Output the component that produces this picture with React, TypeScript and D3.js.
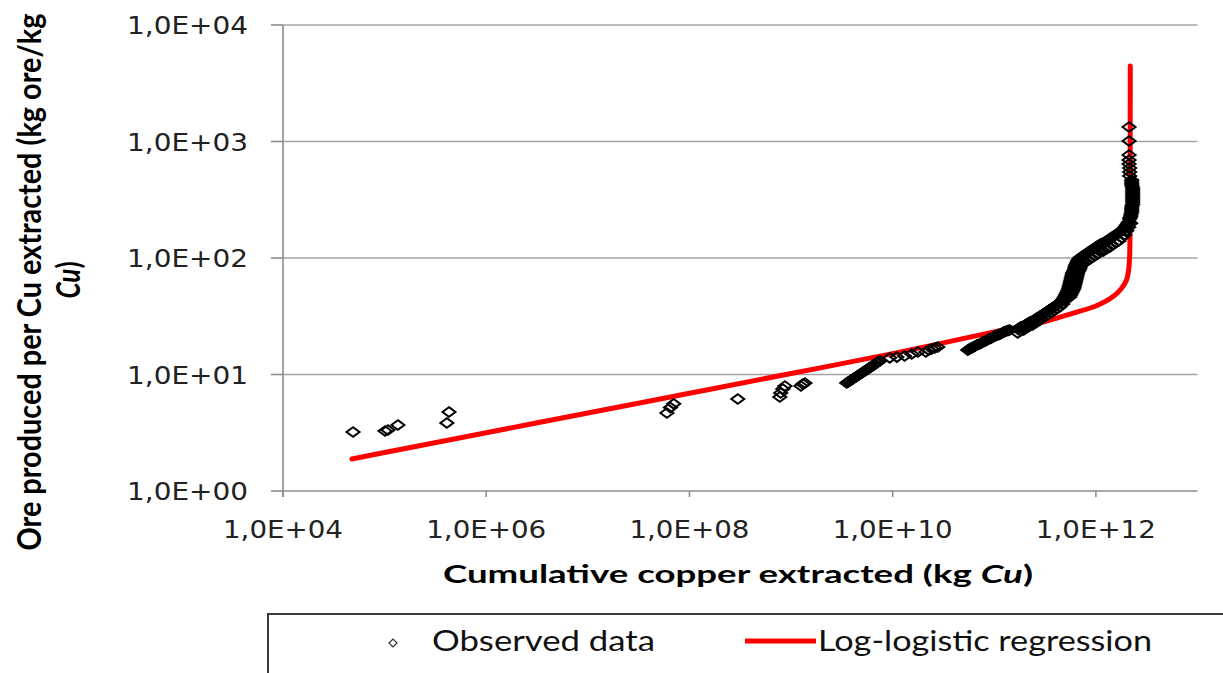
import React from 'react';
import * as d3 from 'd3';

const W = 1223;
const H = 673;

// Axis ticks
const xTicks = [1e4, 1e6, 1e8, 1e10, 1e12];
const xTickLabels = ['1,0E+04', '1,0E+06', '1,0E+08', '1,0E+10', '1,0E+12'];
const yTicks = [1, 10, 100, 1000, 10000];
const yTickLabels = ['1,0E+00', '1,0E+01', '1,0E+02', '1,0E+03', '1,0E+04'];

// Observed data: [cumulative copper extracted (kg Cu), ore per Cu (kg ore / kg Cu)]
const observedEarly: [number, number][] = [
  [4.89e4, 3.21], [1.01e5, 3.27], [1.08e5, 3.34], [1.35e5, 3.69], [4.1e5, 3.84], [4.3e5, 4.77],
  [6.0e7, 4.67], [6.5e7, 5.2], [7.0e7, 5.6],
  [2.99e8, 6.16],
  [7.75e8, 6.41], [7.9e8, 6.94], [8.3e8, 7.51], [8.7e8, 7.97],
  [1.25e9, 7.97], [1.31e9, 8.28], [1.37e9, 8.45],
];

const observedMid: [number, number][] = [
  [3.53e9, 8.45], [3.65e9, 8.62], [3.78e9, 8.79], [3.91e9, 8.97], [4.05e9, 9.15], [4.19e9, 9.33],
  [4.33e9, 9.51], [4.48e9, 9.7], [4.64e9, 9.9], [4.8e9, 10.1], [4.96e9, 10.3], [5.13e9, 10.5],
  [5.31e9, 10.7], [5.5e9, 10.9], [5.69e9, 11.1], [5.88e9, 11.4], [6.09e9, 11.6], [6.3e9, 11.8],
  [6.51e9, 12.1], [6.74e9, 12.3], [6.97e9, 12.6], [7.21e9, 12.8], [7.47e9, 13.1],
  [9.36e9, 13.9], [1.1e10, 14.1], [1.31e10, 14.4], [1.54e10, 15.0], [1.77e10, 15.6],
  [2.12e10, 15.6], [2.27e10, 16.2], [2.43e10, 16.6], [2.6e10, 16.9], [2.78e10, 17.2],
];

const observedLate: [number, number][] = [
  [5.48e10, 16.2], [5.67e10, 16.5], [5.86e10, 16.8], [6.06e10, 17.0], [6.27e10, 17.2], [6.49e10, 17.6],
  [6.71e10, 17.9], [6.95e10, 18.1], [7.19e10, 18.3], [7.43e10, 18.6], [7.69e10, 19.0], [7.96e10, 19.2],
  [8.23e10, 19.4], [8.52e10, 19.8], [8.81e10, 20.2], [9.12e10, 20.4], [9.43e10, 20.6], [9.76e10, 21.0],
  [1.01e11, 21.4], [1.045e11, 21.6], [1.08e11, 21.8], [1.12e11, 22.1], [1.155e11, 22.3], [1.195e11, 22.7],
  [1.24e11, 23.2], [1.28e11, 23.4], [1.32e11, 23.6], [1.37e11, 23.9], [1.42e11, 24.1],
  [1.7e11, 24.6], [1.76e11, 25.1], [1.82e11, 25.6], [1.88e11, 25.8], [1.95e11, 26.1], [2.01e11, 26.6],
  [2.08e11, 27.1], [2.16e11, 27.7], [2.23e11, 28.2], [2.31e11, 28.5], [2.39e11, 28.8], [2.47e11, 29.4],
  [2.55e11, 30.0], [2.64e11, 30.6], [2.73e11, 31.2], [2.83e11, 31.8], [2.93e11, 32.4], [3.03e11, 33.1],
  [3.13e11, 33.7], [3.24e11, 34.4], [3.35e11, 35.1], [3.47e11, 35.8], [3.59e11, 36.5], [3.71e11, 37.2],
  [3.84e11, 38.0], [3.97e11, 38.7], [4.11e11, 39.5], [4.25e11, 40.3], [4.4e11, 41.1], [4.55e11, 42.3],
  [4.71e11, 43.6], [4.82e11, 44.9], [4.92e11, 46.3], [5.03e11, 48.1], [5.15e11, 50.1], [5.27e11, 52.1],
  [5.39e11, 54.2], [5.45e11, 56.3], [5.52e11, 58.6], [5.58e11, 61.0], [5.64e11, 63.4], [5.71e11, 66.0],
  [5.77e11, 68.7], [5.84e11, 71.5], [5.9e11, 74.3], [6.04e11, 77.3], [6.18e11, 80.4], [6.25e11, 83.7],
  [6.32e11, 87.1], [6.47e11, 90.6], [6.61e11, 94.2], [6.77e11, 97.1], [6.93e11, 100],
  [1.7e11, 22.7], [1.82e11, 23.6], [1.95e11, 24.1], [2.08e11, 25.1], [2.23e11, 26.1], [2.39e11, 26.6],
  [2.55e11, 27.7], [2.73e11, 28.8], [2.93e11, 30.0], [3.13e11, 31.2], [3.35e11, 32.4], [3.59e11, 33.7],
  [3.84e11, 35.1], [4.11e11, 36.5], [4.4e11, 38.0], [4.71e11, 40.3], [5.03e11, 43.6],
  [5.52e11, 46.3], [5.64e11, 48.1], [5.77e11, 50.1], [5.9e11, 52.1], [6.04e11, 54.2], [6.11e11, 56.3],
  [6.18e11, 58.6], [6.25e11, 61.0], [6.32e11, 63.4], [6.4e11, 66.0], [6.47e11, 68.7], [6.54e11, 71.5],
  [6.61e11, 74.3], [6.77e11, 77.3], [6.93e11, 80.4], [7.01e11, 83.7], [7.09e11, 87.1], [7.25e11, 90.6],
  [7.41e11, 94.2],
  [7.17e11, 102], [7.41e11, 104], [7.67e11, 106], [7.93e11, 108], [8.21e11, 110], [8.49e11, 113],
  [8.78e11, 115], [9.08e11, 117], [9.4e11, 120], [9.72e11, 122], [1.005e12, 124], [1.04e12, 127],
  [1.075e12, 129], [1.11e12, 132], [1.15e12, 133], [1.19e12, 135], [1.23e12, 138], [1.28e12, 140],
  [1.32e12, 143], [1.37e12, 146], [1.41e12, 149], [1.46e12, 152], [1.51e12, 155], [1.57e12, 158],
  [1.62e12, 161], [1.68e12, 164], [1.73e12, 168], [1.79e12, 171], [1.85e12, 176], [1.92e12, 181],
  [1.96e12, 186], [2.01e12, 192], [2.06e12, 198], [2.1e12, 204],
  [7.41e11, 88.8], [7.93e11, 92.5], [8.49e11, 96.1], [9.08e11, 100], [9.72e11, 104], [1.04e12, 108],
  [1.11e12, 113], [1.19e12, 115], [1.28e12, 120], [1.37e12, 124], [1.46e12, 129], [1.57e12, 135],
  [1.68e12, 140], [1.79e12, 149], [1.92e12, 158], [2.01e12, 171], [2.1e12, 184], [2.2e12, 199],
  [2.15e12, 216], [2.18e12, 223], [2.2e12, 229], [2.22e12, 239], [2.25e12, 248], [2.25e12, 258],
  [2.25e12, 268], [2.27e12, 279], [2.3e12, 290], [2.3e12, 303], [2.3e12, 315], [2.3e12, 327],
  [2.3e12, 340], [2.3e12, 354], [2.3e12, 368], [2.3e12, 383], [2.3e12, 399], [2.27e12, 415],
  [2.25e12, 432], [2.25e12, 449], [2.25e12, 467],
  [2.15e12, 506], [2.15e12, 547], [2.15e12, 592], [2.12e12, 641], [2.12e12, 694], [2.12e12, 766],
  [2.12e12, 1010], [2.12e12, 1331],
];

// Log-logistic regression curve
const regressionX = [
  4.77e4, 1e5, 1e6, 1e7, 1e8, 1e9, 1e10, 1e11, 3e11, 6e11, 1e12, 1.5e12, 1.8e12, 2.0e12, 2.1e12, 2.15e12, 2.17e12, 2.18e12,
];
const regressionY = [
  1.88, 2.14, 3.16, 4.67, 6.9, 10.2, 15.1, 23.2, 28.2, 33.7, 38.7, 47.2, 55.3, 64.7, 78.9, 106, 316, 4450,
];

const legendLabels = ['Observed data', 'Log-logistic regression'];

export default function App() {
  const x = d3.scaleLog().domain([1e4, 1e13]).range([283, 1197.5]);
  const y = d3.scaleLog().domain([1, 1e4]).range([491, 25]);

  const regPts: [number, number][] = regressionX.map((v, i) => [v, regressionY[i]]);
  const line = d3
    .line<[number, number]>()
    .x((d) => x(d[0]))
    .y((d) => y(d[1]))
    .curve(d3.curveCatmullRom.alpha(0.5));

  const observed = [...observedEarly, ...observedMid, ...observedLate];

  const dw = 6.5;
  const dh = 4.8;
  const diamond = `M0,${-dh}L${dw},0L0,${dh}L${-dw},0Z`;
  const gridColor = '#a3a3a3';
  const axisColor = '#8c8c8c';
  const tickFont = 'DejaVu Sans, Verdana, sans-serif';
  const titleFont = 'Lato, "Open Sans", sans-serif';

  return (
    <div style={{ position: 'absolute', left: 0, top: 0 }}>
      <svg width={W} height={H} viewBox={`0 0 ${W} ${H}`} style={{ display: 'block', background: '#fff' }}>
        <rect x={0} y={0} width={W} height={H} fill="#fff" />
        {yTicks.slice(1).map((t) => (
          <line key={'g' + t} x1={x(1e4)} x2={x(1e13)} y1={y(t)} y2={y(t)} stroke={gridColor} strokeWidth={1.6} />
        ))}
        <line x1={x(1e4)} x2={x(1e13)} y1={y(1)} y2={y(1)} stroke={axisColor} strokeWidth={1.6} />
        <line x1={x(1e4)} x2={x(1e4)} y1={y(1e4)} y2={y(1) + 6} stroke={axisColor} strokeWidth={1.6} />
        {yTicks.map((t) => (
          <line key={'yt' + t} x1={x(1e4) - 12} x2={x(1e4)} y1={y(t)} y2={y(t)} stroke={axisColor} strokeWidth={1.6} />
        ))}
        {xTicks.map((t) => (
          <line key={'xt' + t} x1={x(t)} x2={x(t)} y1={y(1)} y2={y(1) + 6} stroke={axisColor} strokeWidth={1.6} />
        ))}
        {yTicks.map((t, i) => (
          <text
            key={'yl' + t}
            x={248}
            y={y(t) + 9}
            textAnchor="end"
            fontFamily={tickFont}
            fontSize={24.5}
            fill="#222"
            textLength={121}
            lengthAdjust="spacingAndGlyphs"
          >
            {yTickLabels[i]}
          </text>
        ))}
        {xTicks.map((t, i) => (
          <text
            key={'xl' + t}
            x={x(t) - 60}
            y={538}
            textAnchor="start"
            fontFamily={tickFont}
            fontSize={24.5}
            fill="#222"
            textLength={120}
            lengthAdjust="spacingAndGlyphs"
          >
            {xTickLabels[i]}
          </text>
        ))}
        <text
          x={443}
          y={583}
          fontFamily={titleFont}
          fontWeight="bold"
          fontSize={25}
          fill="#000"
          textLength={590}
          lengthAdjust="spacingAndGlyphs"
        >
          Cumulative copper extracted (kg <tspan fontStyle="italic">Cu</tspan>)
        </text>
        <g transform="translate(41,282) scale(1.25,1) rotate(-90)">
          <text
            x={0}
            y={0}
            textAnchor="middle"
            fontFamily={titleFont}
            fontWeight="bold"
            fontSize={26}
            fill="#000"
            textLength={537}
            lengthAdjust="spacingAndGlyphs"
          >
            Ore produced per Cu extracted (kg ore/kg
          </text>
        </g>
        <g transform="translate(80,280) scale(1.25,1) rotate(-90)">
          <text x={0} y={0} textAnchor="middle" fontFamily={titleFont} fontWeight="bold" fontSize={26} fill="#000">
            <tspan fontStyle="italic">Cu</tspan>)
          </text>
        </g>
        <path d={line(regPts) || ''} fill="none" stroke="#ff0000" strokeWidth={5} strokeLinecap="round" strokeLinejoin="round" />
        {observed.map((d, i) => (
          <path
            key={'o' + i}
            d={diamond}
            transform={`translate(${x(d[0])},${y(d[1])})`}
            fill="none"
            stroke="#000"
            strokeWidth={2}
          />
        ))}
        <rect x={268} y={614} width={1100} height={120} fill="#fff" stroke="#3a3a3a" strokeWidth={2} />
        <path d="M-4,0L0,-4L4,0L0,4Z" transform="translate(393,643)" fill="none" stroke="#333" strokeWidth={1.2} />
        <text x={432} y={651} fontFamily={titleFont} fontSize={29} fill="#111" textLength={223} lengthAdjust="spacingAndGlyphs">
          {legendLabels[0]}
        </text>
        <line x1={745} x2={816} y1={641} y2={641} stroke="#ff0000" strokeWidth={5} />
        <text x={818} y={651} fontFamily={titleFont} fontSize={29} fill="#111" textLength={334} lengthAdjust="spacingAndGlyphs">
          {legendLabels[1]}
        </text>
      </svg>
    </div>
  );
}
